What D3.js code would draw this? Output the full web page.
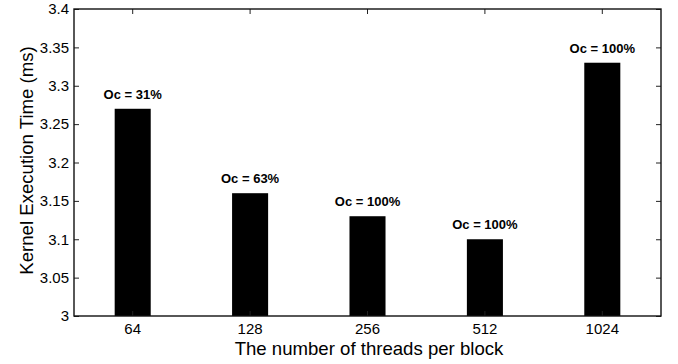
<!DOCTYPE html>
<html>
<head>
<meta charset="utf-8">
<script src="https://cdn.jsdelivr.net/npm/d3@7"></script>
<style>
  html, body { margin: 0; padding: 0; background: #fff; }
  svg { display: block; font-family: "Liberation Sans", Arial, sans-serif; }
</style>
</head>
<body>
<script>
// Kernel execution time for different block sizes
const threads = ["64", "128", "256", "512", "1024"];
const execTime = [3.27, 3.16, 3.13, 3.10, 3.33];
const occupancy = ["Oc = 31%", "Oc = 63%", "Oc = 100%", "Oc = 100%", "Oc = 100%"];
const yTicks = [3, 3.05, 3.1, 3.15, 3.2, 3.25, 3.3, 3.35, 3.4];

const W = 678, H = 364;
const m = { left: 74, right: 17, top: 9, bottom: 48 };
const iw = W - m.left - m.right, ih = H - m.top - m.bottom;

const svg = d3.select("body").append("svg").attr("width", W).attr("height", H);
const g = svg.append("g").attr("transform", `translate(${m.left},${m.top})`);

const x = d3.scaleBand().domain(threads).range([0, iw]).paddingInner(0.693).paddingOuter(0.3465);
const y = d3.scaleLinear().domain([3, 3.4]).range([ih, 0]);

// bars
g.selectAll("rect.bar").data(threads).join("rect")
  .attr("class", "bar")
  .attr("x", d => x(d))
  .attr("width", x.bandwidth())
  .attr("y", (d, i) => y(execTime[i]))
  .attr("height", (d, i) => ih - y(execTime[i]))
  .attr("fill", "#000");

// occupancy labels
g.selectAll("text.oc").data(threads).join("text")
  .attr("class", "oc")
  .attr("x", d => x(d) + x.bandwidth() / 2)
  .attr("y", (d, i) => y(execTime[i]) - 10)
  .attr("text-anchor", "middle")
  .attr("font-size", 13)
  .attr("font-weight", "bold")
  .text((d, i) => occupancy[i]);

// axes with inward ticks on all four sides
const tickLen = 5;
const axisStyle = sel => {
  sel.select(".domain").remove();
  sel.selectAll("line").attr("stroke", "#222");
  sel.selectAll("text").attr("fill", "#000").attr("font-size", 15)
    .attr("font-family", "'Liberation Sans', Arial, sans-serif");
};

g.append("g")
  .call(d3.axisLeft(y).tickValues(yTicks).tickFormat(d3.format("~g")).tickSize(-tickLen).tickPadding(5))
  .call(axisStyle);

g.append("g").attr("transform", `translate(${iw},0)`)
  .call(d3.axisRight(y).tickValues(yTicks).tickSize(-tickLen).tickFormat(""))
  .call(axisStyle);

g.append("g").attr("transform", `translate(0,${ih})`)
  .call(d3.axisBottom(x).tickSize(-tickLen).tickPadding(7))
  .call(axisStyle);

g.append("g")
  .call(d3.axisTop(x).tickSize(-tickLen).tickFormat(""))
  .call(axisStyle);

// frame
g.append("rect")
  .attr("width", iw).attr("height", ih)
  .attr("fill", "none").attr("stroke", "#111").attr("stroke-width", 1.4);

// axis titles
svg.append("text")
  .attr("x", 369).attr("y", 355)
  .attr("text-anchor", "middle").attr("font-size", 18.6)
  .text("The number of threads per block");

svg.append("text")
  .attr("transform", `translate(33,160.5) rotate(-90)`)
  .attr("text-anchor", "middle").attr("font-size", 18.6)
  .text("Kernel Execution Time (ms)");
</script>
</body>
</html>
